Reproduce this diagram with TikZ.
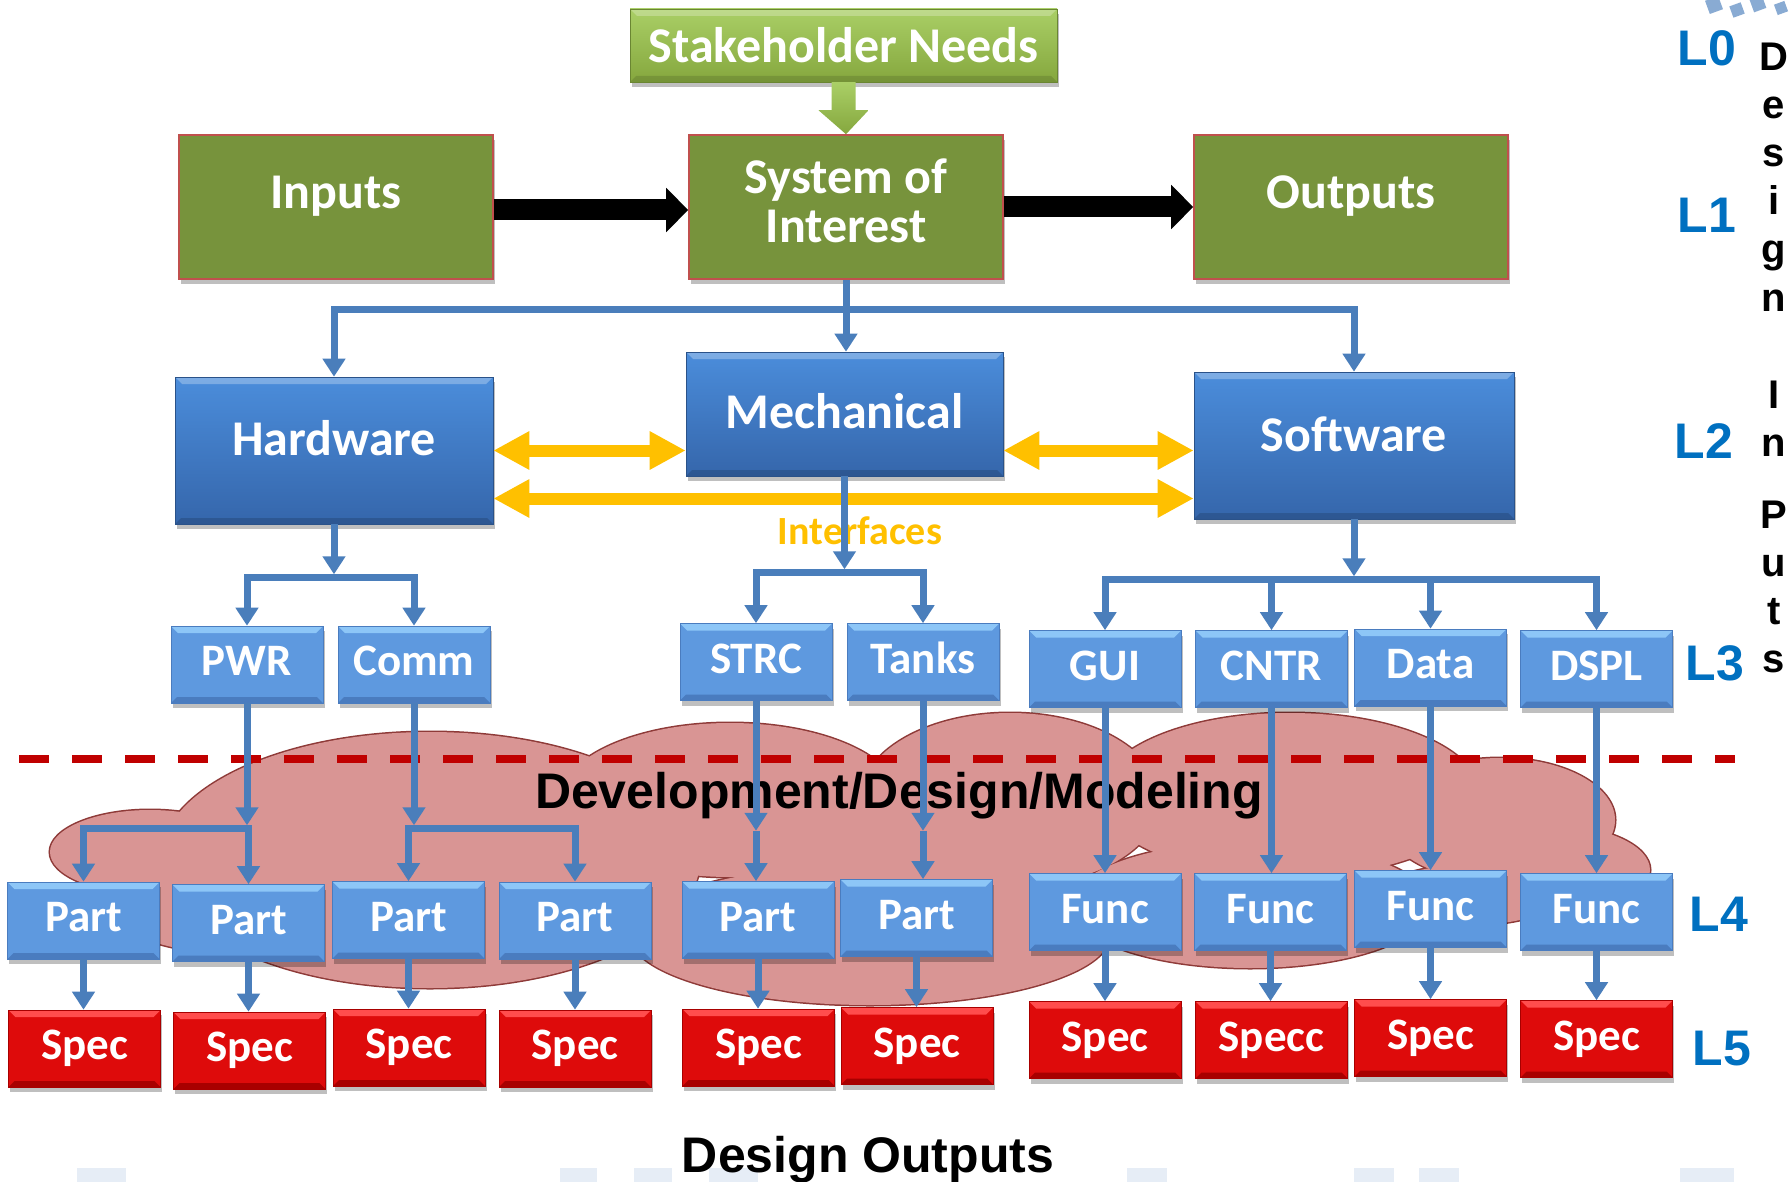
\documentclass[tikz,border=0pt]{standalone}
\usepackage{fontspec}
\setmainfont{Carlito}
\newfontfamily\arialf{Liberation Sans}
\usetikzlibrary{arrows.meta,shadows,calc}

\definecolor{olivebox}{HTML}{77933C}
\definecolor{boxedge}{HTML}{C0504D}
\definecolor{leaftop}{HTML}{AACF66}
\definecolor{leafbot}{HTML}{85A73E}
\definecolor{bbtop}{HTML}{4B8DDB}
\definecolor{bbbot}{HTML}{3566AB}
\definecolor{sbfill}{HTML}{5E99DF}
\definecolor{sbhi}{HTML}{8DC6F7}
\definecolor{sblo}{HTML}{4A7CBF}
\definecolor{rdfill}{HTML}{DE0B0B}
\definecolor{rdhi}{HTML}{FF4D4D}
\definecolor{rdlo}{HTML}{A80000}
\definecolor{cloudfill}{HTML}{D99594}
\definecolor{cloudedge}{HTML}{8E3A38}
\definecolor{connblue}{HTML}{4A7EBB}
\definecolor{linkyellow}{HTML}{FFC000}
\definecolor{dashred}{HTML}{C00000}
\definecolor{levelblue}{HTML}{0070C0}

\tikzset{
  bevel/.style 2 args={path picture={
    \fill[#1] (path picture bounding box.north west) -- (path picture bounding box.north east)
      -- ([xshift=-7pt,yshift=-7pt]path picture bounding box.north east)
      -- ([xshift=7pt,yshift=-7pt]path picture bounding box.north west) -- cycle;
    \fill[#2] (path picture bounding box.south west) -- (path picture bounding box.south east)
      -- ([xshift=-6pt,yshift=6pt]path picture bounding box.south east)
      -- ([xshift=6pt,yshift=6pt]path picture bounding box.south west) -- cycle;
  }},
  boxshadow/.style={drop shadow={shadow xshift=1.5pt,shadow yshift=-5pt,fill=black,opacity=.25}},
  greenbox/.style={draw=boxedge,line width=1.6pt,fill=olivebox,boxshadow,
    minimum width=314pt,minimum height=144pt,inner sep=0pt},
  leafbox/.style={draw=leafbot!80!black,line width=.5pt,top color=leaftop,bottom color=leafbot,
    bevel={white,opacity=.25}{black,opacity=.12},boxshadow,inner sep=0pt,text=white,
    font=\bfseries\fontsize{50}{50}\selectfont},
  bigblue/.style={draw=bbbot!80!black,line width=.6pt,top color=bbtop,bottom color=bbbot,
    bevel={white,opacity=.28}{black,opacity=.15},boxshadow,
    minimum width=318pt,minimum height=147pt,inner sep=0pt},
  bigtext/.style={text=white,font=\bfseries\fontsize{50}{49}\selectfont,inner sep=0pt},
  smallblue/.style={draw=sblo,line width=.6pt,fill=sbfill,bevel={sbhi}{sblo},boxshadow,
    minimum width=152pt,minimum height=77pt,inner sep=0pt,text=white,
    font=\bfseries\fontsize{45}{45}\selectfont,text height=30pt,text depth=8pt},
  specbox/.style={smallblue,draw=rdlo,fill=rdfill,bevel={rdhi}{rdlo}},
  conn/.style={draw=connblue,line width=7pt},
  downtip/.style={-{Triangle[length=18pt,width=22pt]}},
  flowarrow/.style={draw=black,line width=21pt,-{Triangle[length=22pt,width=43pt]}},
  linkarrow/.style={draw=linkyellow,line width=12pt,
    {Triangle[length=36pt,width=36pt]}-{Triangle[length=36pt,width=36pt]}},
  level/.style={text=levelblue,font=\arialf\bfseries\fontsize{50}{50}\selectfont,anchor=base,inner sep=0pt},
  sideletter/.style={font=\arialf\bfseries\fontsize{40}{40}\selectfont,anchor=base,inner sep=0pt},
}

\begin{document}
\begin{tikzpicture}[x=1pt,y=-1pt]
\useasboundingbox (0,0) rectangle (1790,1182);
\fill[white] (0,0) rectangle (1790,1182);

% faint marks along the lower edge
\foreach \a/\b in {77/126,560/597,634/672,709/758,1127/1167,1354/1394,1419/1459,1680/1734}
  \fill[connblue!14] (\a,1168) rectangle (\b,1182);

% small blue marks in the upper right corner
\foreach \cx/\cy/\r in {1714/5/14,1737/10/12,1758/4/13,1781/8/11}
  \fill[connblue!65,rotate around={20:(\cx,\cy)}] (\cx-\r/2,\cy-\r/2) rectangle (\cx+\r/2,\cy+\r/2);

% development cloud: outline of all lobes, then fill to keep only the outer contour
\def\lobes{150/852/100/42, 230/905/120/48, 430/860/270/128, 730/800/170/77,
  1010/800/150/87, 1290/795/190/82, 1500/820/115/62, 1550/870/100/45,
  870/935/240/70, 1250/905/180/63, 1470/895/90/30, 880/860/140/70}
\foreach \cx/\cy/\rx/\ry in \lobes
  \draw[cloudedge,line width=3pt] (\cx,\cy) ellipse [x radius=\rx,y radius=\ry];
\foreach \cx/\cy/\rx/\ry in \lobes
  \fill[cloudfill] (\cx,\cy) ellipse [x radius=\rx,y radius=\ry];

% boundary line
\coordinate (dl) at (19,759);
\coordinate (dr) at (1735,759);
\draw[dashred,line width=8pt,dash pattern=on 30pt off 23pt] (dl) -- (dr);

\node[font=\arialf\bfseries\fontsize{50}{50}\selectfont,anchor=base,inner sep=0pt] (dev) at (899,808) {Development/Design/Modeling};

% level 0 and 1
\node[leafbox,minimum width=427pt,minimum height=73pt] (sn) at (843.5,45.5) {Stakeholder Needs};
\node[greenbox,label={[name=int,bigtext,yshift=11pt]center:Inputs}] (in) at (336,207) {};
\node[greenbox,label={[name=soit,bigtext,align=center,yshift=6pt]center:System of\\Interest}] (soi) at (846,207) {};
\node[greenbox,label={[name=outt,bigtext,yshift=11pt]center:Outputs}] (out) at (1351,207) {};

\shade[top color=leaftop,bottom color=leafbot]
  ($(sn.south)+(-12,0)$) -- ($(sn.south)+(12,0)$) -- ($(sn.south)+(12,28)$) -- ($(sn.south)+(25,28)$)
  -- (soi.north) -- ($(sn.south)+(-25,28)$) -- ($(sn.south)+(-12,28)$) -- cycle;

\draw[flowarrow] ($(in.east)+(0,3)$) -- ($(soi.west)+(0,3)$);
\draw[flowarrow] (soi.east) -- (out.west);

% level 2
\node[bigblue,label={[name=hwt,bigtext,yshift=12pt]center:Hardware}] (hw) at (334,450.5) {};
\node[bigblue,minimum width=317pt,minimum height=124pt,label={[name=mecht,bigtext,yshift=3pt]center:Mechanical}] (mech) at (844.5,414) {};
\node[bigblue,minimum width=320pt,label={[name=swt,bigtext,yshift=11pt]center:Software}] (sw) at (1354,445.5) {};

\draw[linkarrow] (hw.east) -- (hw.east -| mech.west);
\draw[linkarrow] (hw.east -| mech.east) -- (hw.east -| sw.west);
\draw[linkarrow] ($(hw.east)+(0,48)$) -- ($(hw.east -| sw.west)+(0,48)$);
\node[font=\bfseries\fontsize{40}{40}\selectfont,text=linkyellow,inner sep=0pt] (ifc) at (860,531) {Interfaces};

% level 3
\node[smallblue] (pwr) at (247,664.5) {PWR};
\node[smallblue] (comm) at (414,664.5) {Comm};
\node[smallblue] (strc) at (756,662) {STRC};
\node[smallblue] (tanks) at (923,662) {Tanks};
\node[smallblue] (gui) at (1105,669) {GUI};
\node[smallblue] (cntr) at (1271.5,669) {CNTR};
\node[smallblue] (data) at (1430.5,667.5) {Data};
\node[smallblue] (dspl) at (1596.5,669) {DSPL};

% level 4
\node[smallblue] (p1) at (83.5,920.5) {Part};
\node[smallblue] (p2) at (248.5,923) {Part};
\node[smallblue] (p3) at (408.5,920) {Part};
\node[smallblue] (p4) at (575,920.5) {Part};
\node[smallblue] (p5) at (758,920) {Part};
\node[smallblue] (p6) at (916.5,918) {Part};
\node[smallblue] (f1) at (1105,912) {Func};
\node[smallblue] (f2) at (1270.5,912) {Func};
\node[smallblue] (f3) at (1430.5,909) {Func};
\node[smallblue] (f4) at (1596.5,912) {Func};

% level 5
\node[specbox] (s1) at (84.5,1048.5) {Spec};
\node[specbox] (s2) at (249.5,1050.5) {Spec};
\node[specbox] (s3) at (409,1047.5) {Spec};
\node[specbox] (s4) at (575,1048.5) {Spec};
\node[specbox] (s5) at (758.5,1047.5) {Spec};
\node[specbox] (s6) at (917,1046) {Spec};
\node[specbox] (sf1) at (1105,1040) {Spec};
\node[specbox] (sf2) at (1271.5,1040) {Specc};
\node[specbox] (sf3) at (1430.5,1038) {Spec};
\node[specbox] (sf4) at (1596.5,1039) {Spec};

% system of interest to its three domains
\coordinate (t0) at ($(soi.south)+(0,30)$);
\draw[conn] (soi.south) -- (t0);
\draw[conn,downtip] (t0) -| (hw.north);
\draw[conn,downtip] (t0) -| (sw.north);
\draw[conn,downtip] (t0) -- (t0 |- mech.north);

% domains to subsystems
\coordinate (hb) at ($(hw.south)+(0,53)$);
\draw[conn,downtip] (hw.south) -- ($(hb)+(0,-3)$);
\draw[conn,downtip] (hb) -| (pwr.north);
\draw[conn,downtip] (hb) -| (comm.north);

\coordinate (mb) at ($(mech.south)+(0,96)$);
\draw[conn,downtip] (mech.south) -- ($(mb)+(0,-3)$);
\draw[conn,downtip] (mb) -| (strc.north);
\draw[conn,downtip] (mb) -| (tanks.north);

\coordinate (sb) at ($(sw.south)+(0,60)$);
\draw[conn,downtip] (sw.south) -- ($(sb)+(0,-3)$);
\draw[conn,downtip] (sb) -| (gui.north);
\draw[conn,downtip] (sb) -| (cntr.north);
\draw[conn,downtip] (sb) -| (data.north);
\draw[conn,downtip] (sb) -| (dspl.north);

% subsystems to parts and functions
\coordinate (pb) at ($(pwr.south)+(0,125)$);
\draw[conn,downtip] (pwr.south) -- ($(pb)+(0,-3)$);
\draw[conn,downtip] (pb) -| (p1.north);
\draw[conn,downtip] (pb) -| (p2.north);

\coordinate (cb) at ($(comm.south)+(0,125)$);
\draw[conn,downtip] (comm.south) -- ($(cb)+(0,-3)$);
\draw[conn,downtip] (cb) -| (p3.north);
\draw[conn,downtip] (cb) -| (p4.north);

\coordinate (stb) at ($(strc.south)+(0,130)$);
\draw[conn,downtip] (strc.south) -- (stb);
\draw[conn,downtip] (stb) -- (stb |- p5.north);
\coordinate (tkb) at ($(tanks.south)+(0,130)$);
\draw[conn,downtip] (tanks.south) -- (tkb);
\draw[conn,downtip] (tkb) -- (tkb |- p6.north);

\draw[conn,downtip] (gui.south) -- (gui.south |- f1.north);
\draw[conn,downtip] (cntr.south) -- (cntr.south |- f2.north);
\draw[conn,downtip] (data.south) -- (data.south |- f3.north);
\draw[conn,downtip] (dspl.south) -- (dspl.south |- f4.north);

% parts and functions to specifications
\foreach \u/\v in {p1/s1,p2/s2,p3/s3,p4/s4,p5/s5,p6/s6,f1/sf1,f2/sf2,f3/sf3,f4/sf4}
  \draw[conn,downtip] (\u.south) -- (\u.south |- \v.north);

% level markers
\node[level] (l0) at (1707,66) {L0};
\node[level] (l1) at (1707,233) {L1};
\node[level] (l2) at (1704,458) {L2};
\node[level] (l3) at (1715,680) {L3};
\node[level] (l4) at (1719,931) {L4};
\node[level] (l5) at (1722,1065) {L5};

% vertical caption at the right edge
\foreach \ch/\yb [count=\k] in {D/71,e/119,s/167,i/215,g/263,n/311,I/408,n/456,P/528,u/576,t/624,s/672}
  \node[sideletter] (side\k) at (1774,\yb) {\ch};

\node[font=\arialf\bfseries\fontsize{50}{50}\selectfont,anchor=base,inner sep=0pt] (outs) at (868,1172) {Design Outputs};
\end{tikzpicture}
\end{document}
